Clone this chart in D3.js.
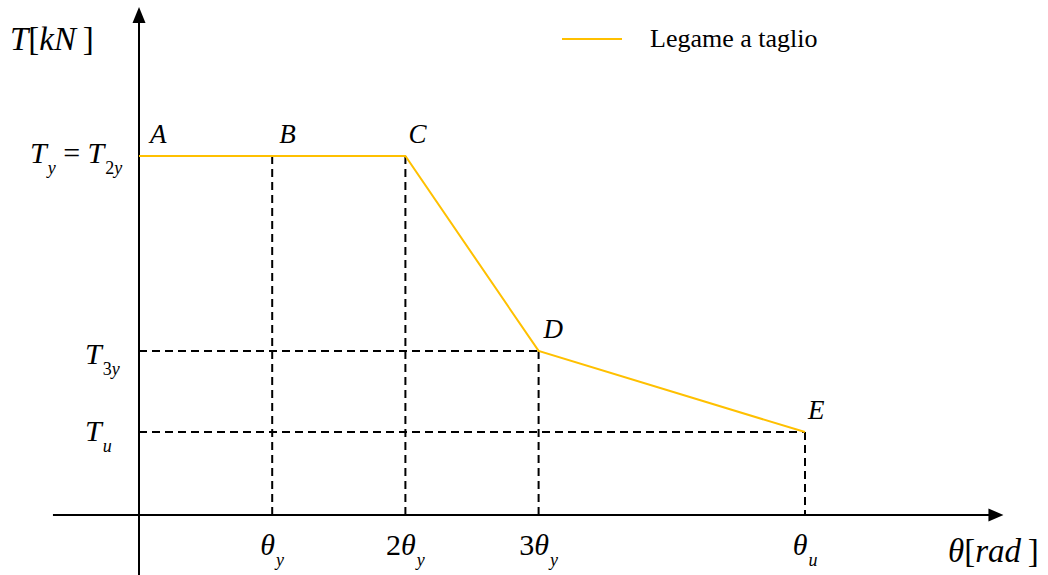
<!DOCTYPE html>
<html>
<head>
<meta charset="utf-8">
<script src="https://cdn.jsdelivr.net/npm/d3@7"></script>
<style>
	body { margin: 0; background: #fff; }
	svg text { fill: #000; white-space: pre; }
</style>
</head>
<body>
<svg id="chart" width="1048" height="575" font-family="'Liberation Serif', 'Times New Roman', Tinos, 'DejaVu Serif', serif"></svg>
<script>
	// DATA
	var pointNames = ["A", "B", "C", "D", "E"];
	var thetaValues = [0, 1, 2, 3, 5];          // in units of theta_y
	var shearValues = [1, 1, 1, 0.457, 0.231];  // in units of T_y
	var xTickValues = [1, 2, 3, 5];
	var xTickLabels = ["θ_{y}", "2θ_{y}", "3θ_{y}", "θ_{u}"];
	var yTickValues = [1, 0.457, 0.231];
	var yTickLabels = ["T_{y}\u2005=\u2005T_{2y}", "T_{3y}", "T_{u}"];
	var seriesName = "Legame a taglio";
	var xTitle = "θ[rad\u2009]";
	var yTitle = "T[kN\u2009]";

	// LAYOUT
	var svg = d3.select("#chart");
	var lineColor = "#FFC000";
	var x = d3.scaleLinear().domain([0, 5]).range([139, 805]);
	var y = d3.scaleLinear().domain([0, 1]).range([515, 156]);
	var xExtent = [-0.646, 6.49];
	var yExtent = [-0.167, 1.415];

	var pts = thetaValues.map(function (d, i) {
		return { name: pointNames[i], t: d, v: shearValues[i] };
	});

	// rich text: letters italic, digits/symbols upright, _{..} subscript
	function richText(sel, str, size) {
		var parts = [], re = /_\{(.*?)\}/g, last = 0, m;
		while ((m = re.exec(str)) !== null) {
			if (m.index > last) parts.push({ s: str.slice(last, m.index), sub: false });
			parts.push({ s: m[1], sub: true });
			last = re.lastIndex;
		}
		if (last < str.length) parts.push({ s: str.slice(last), sub: false });
		var inSub = false;
		parts.forEach(function (p) {
			var runs = p.s.match(/[A-Za-zα-ωΑ-Ω]+|[^A-Za-zα-ωΑ-Ω]+/g) || [];
			runs.forEach(function (r, k) {
				var ts = sel.append("tspan").text(r)
					.attr("font-style", /[A-Za-zα-ωΑ-Ω]/.test(r) ? "italic" : "normal")
					.attr("font-size", (p.sub ? size * 0.6 : size) + "px");
				if (k === 0 && p.sub !== inSub) {
					ts.attr("dy", p.sub ? size * 0.38 : -size * 0.38);
					inSub = p.sub;
				}
				if (p.sub && k === 0) ts.attr("dx", 1);
			});
		});
		return sel;
	}

	// dashed guides
	var guides = svg.append("g")
		.attr("stroke", "#000").attr("stroke-width", 2).attr("stroke-dasharray", "8,5").attr("fill", "none");
	guides.selectAll("line.v")
		.data(pts.filter(function (d) { return d.t > 0; })).enter()
		.append("line").attr("class", "v")
		.attr("x1", function (d) { return x(d.t); })
		.attr("x2", function (d) { return x(d.t); })
		.attr("y1", function (d) { return y(d.v); })
		.attr("y2", y(0));
	guides.selectAll("line.h")
		.data(pts.filter(function (d) { return d.v < 1; })).enter()
		.append("line").attr("class", "h")
		.attr("x1", x(0))
		.attr("x2", function (d) { return x(d.t); })
		.attr("y1", function (d) { return y(d.v); })
		.attr("y2", function (d) { return y(d.v); });

	// axes
	var ax = svg.append("g").attr("stroke", "#000").attr("stroke-width", 2);
	ax.append("line").attr("x1", x(xExtent[0])).attr("x2", x(xExtent[1]) - 10).attr("y1", y(0)).attr("y2", y(0));
	ax.append("line").attr("x1", x(0)).attr("x2", x(0)).attr("y1", y(yExtent[0])).attr("y2", y(yExtent[1]) + 10);
	svg.append("path")
		.attr("d", "M" + x(xExtent[1]) + "," + y(0) + "l-15,-6.5l0,13z").attr("fill", "#000");
	svg.append("path")
		.attr("d", "M" + x(0) + "," + y(yExtent[1]) + "l-6.5,16l13,0z").attr("fill", "#000");

	// curve
	svg.append("path")
		.datum(pts)
		.attr("d", d3.line().x(function (d) { return x(d.t); }).y(function (d) { return y(d.v); }))
		.attr("fill", "none").attr("stroke", lineColor).attr("stroke-width", 2);

	// point labels
	var ptDx = [11, 7, 3, 5, 3];
	svg.selectAll("text.pt")
		.data(pts).enter()
		.append("text").attr("class", "pt")
		.attr("x", function (d, i) { return x(d.t) + ptDx[i]; })
		.attr("y", function (d) { return y(d.v) - 13; })
		.attr("font-style", "italic").attr("font-size", "27px")
		.text(function (d) { return d.name; });

	// x tick labels
	xTickValues.forEach(function (v, i) {
		var t = svg.append("text").attr("x", x(v)).attr("y", 555).attr("text-anchor", "middle");
		richText(t, xTickLabels[i], 30);
	});

	// y tick labels
	var yLabX = [30, 85, 85], yLabDy = [7, 13, 9];
	yTickValues.forEach(function (v, i) {
		var t = svg.append("text").attr("x", yLabX[i]).attr("y", y(v) + yLabDy[i]);
		richText(t, yTickLabels[i], 30);
	});

	// axis titles
	richText(svg.append("text").attr("x", 10).attr("y", 50), yTitle, 33);
	richText(svg.append("text").attr("x", 948).attr("y", 562), xTitle, 33);

	// legend
	svg.append("line").attr("x1", 562).attr("x2", 622).attr("y1", 39).attr("y2", 39)
		.attr("stroke", lineColor).attr("stroke-width", 2);
	svg.append("text").attr("x", 650).attr("y", 47).attr("font-size", "26px").text(seriesName);
</script>
</body>
</html>
